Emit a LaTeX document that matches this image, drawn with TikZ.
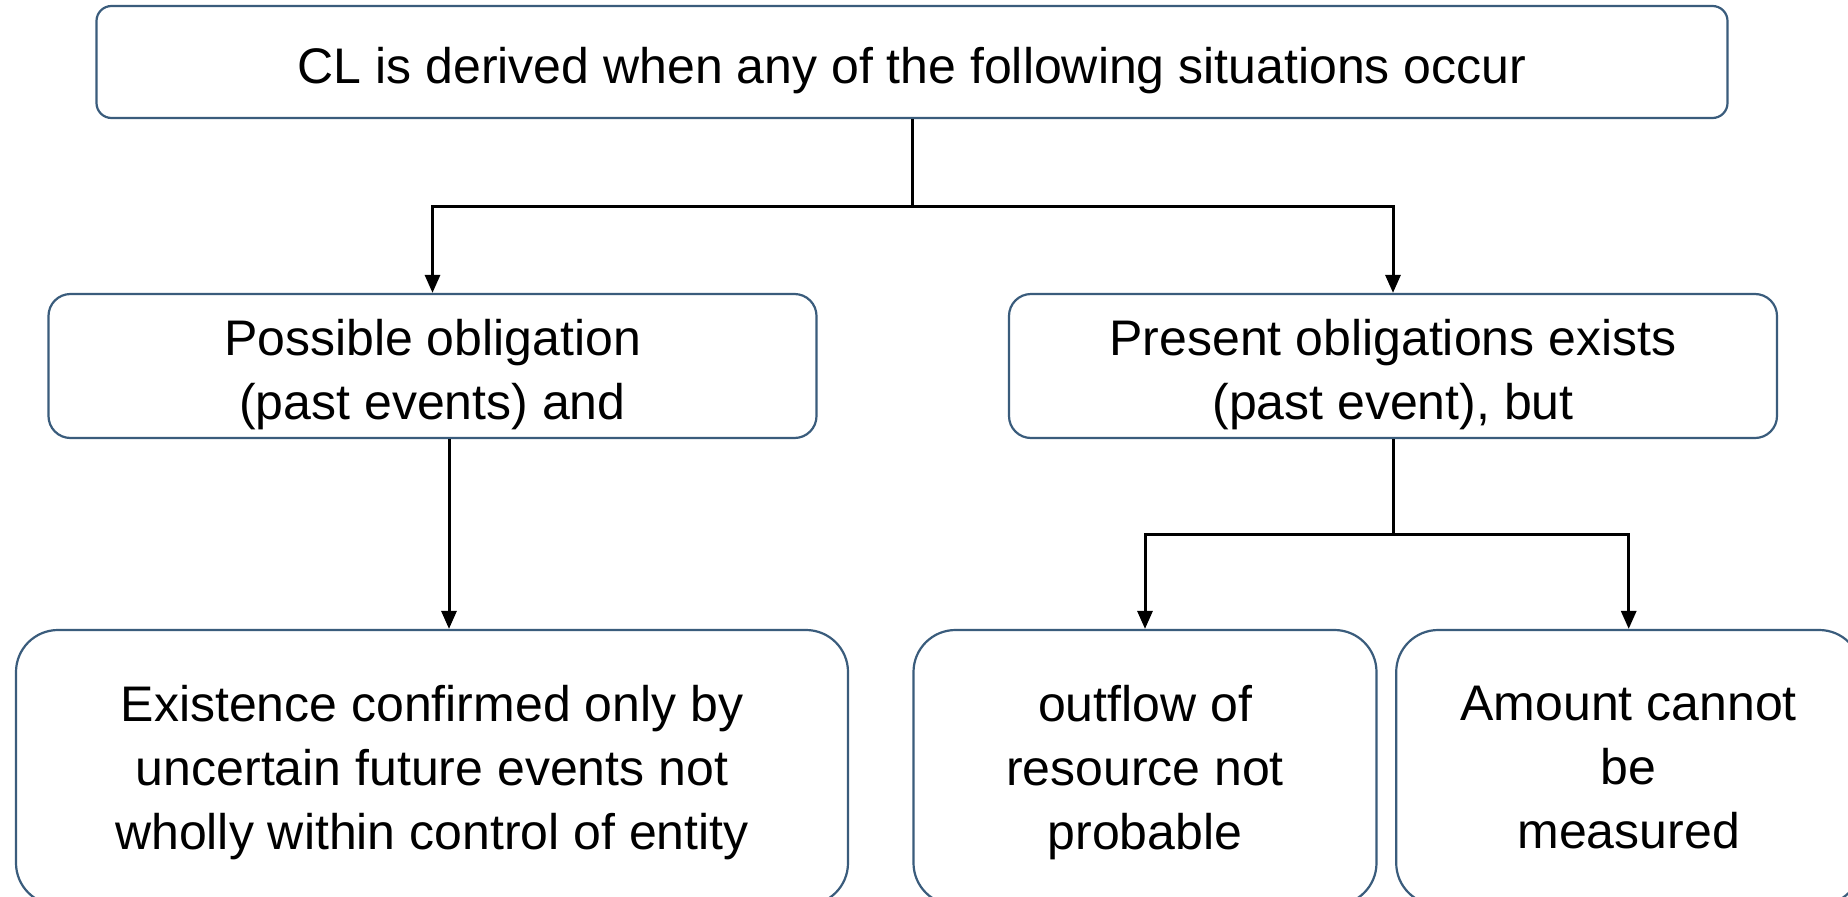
\documentclass[tikz,border=0pt]{standalone}
\usepackage{fontspec}
\setmainfont{Liberation Sans}
\usetikzlibrary{arrows.meta}
\definecolor{boxblue}{RGB}{58,92,124}
\newcommand{\lift}[1]{\rule{0pt}{#1pt}}
\begin{document}
\begin{tikzpicture}[x=1pt,y=-1pt,
  box/.style={draw=boxblue,line width=2.2pt,fill=white,align=center,inner sep=0pt,
    font=\fontsize{50}{64}\selectfont},
  topbox/.style={box,rounded corners=15pt,minimum width=1631pt,minimum height=112pt},
  midbox/.style={box,rounded corners=22pt,minimum width=768pt,minimum height=144pt},
  lowbox/.style={box,rounded corners=42pt,minimum height=275pt},
  conn/.style={line width=3pt,black},
  arr/.style={conn,-{Triangle[length=18pt,width=15pt]}}]
\useasboundingbox (0,0) rectangle (1848,897);
\fill[white] (0,0) rectangle (1848,897);
\node[topbox] (top) at (912,62) {\lift{53}CL is derived when any of the following situations occur};
\node[midbox] (pos) at (432.5,366) {\lift{53}Possible obligation\\ (past events) and};
\node[midbox] (pres) at (1393,366) {\lift{53}Present obligations exists\\(past event), but};
\node[lowbox,minimum width=832pt] (exist) at (432,767.5) {\lift{46}Existence confirmed only by\\uncertain future events not\\wholly within control of entity};
\node[lowbox,minimum width=463pt] (outf) at (1145,767.5) {\lift{46}outflow of\\resource not\\probable};
\node[lowbox,minimum width=465pt] (amt) at (1628.7,767.5) {Amount cannot\\be\\measured};
\coordinate (j1) at (912,206);
\coordinate (j2) at (1393,534);
\draw[conn] (top.south) -- (j1);
\draw[arr] (j1) -| (pos.north);
\draw[arr] (j1) -| (pres.north);
\draw[arr] (pos.south -| 449,0) -- (exist.north -| 449,0);
\draw[conn] (pres.south) -- (j2);
\draw[arr] (j2) -| (outf.north);
\draw[arr] (j2) -| (amt.north);
\end{tikzpicture}
\end{document}
